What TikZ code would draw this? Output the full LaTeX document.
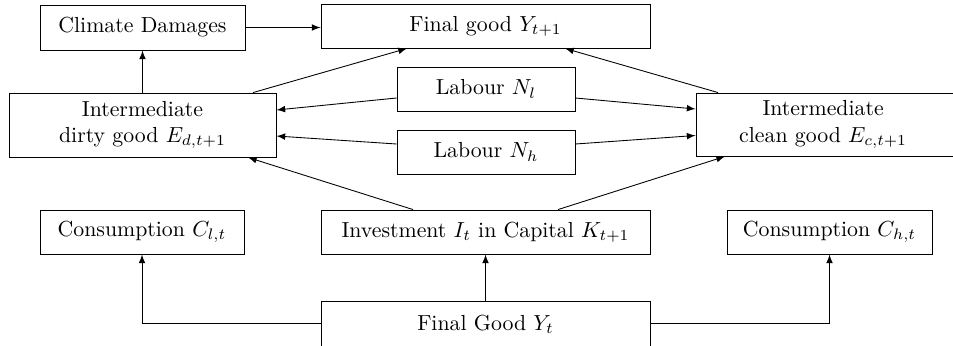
\documentclass[tikz,border=0pt]{standalone}
\usetikzlibrary{calc,arrows}
\begin{document}
\begin{tikzpicture}[x=0.4587pt,y=-0.4587pt,
  box/.style={draw,line width=0.4pt,align=center,inner sep=0pt,font=\normalsize},
  arr/.style={-latex,line width=0.4pt}]
\useasboundingbox (0,0) rectangle (953,345);
\node[box,minimum width=205*0.4587pt,minimum height=45*0.4587pt] (cd) at (142.5,27.5) {Climate Damages};
\node[box,minimum width=329*0.4587pt,minimum height=44*0.4587pt] (fg) at (485.5,26) {Final good $Y_{t+1}$};
\node[box,minimum width=178*0.4587pt,minimum height=44*0.4587pt] (nl) at (486,89) {Labour $N_l$};
\node[box,minimum width=178*0.4587pt,minimum height=44*0.4587pt] (nh) at (486,152) {Labour $N_h$};
\node[box,minimum width=267*0.4587pt,minimum height=64*0.4587pt] (dirty) at (142.5,125) {Intermediate\\ dirty good $E_{d,t+1}$};
\node[box,minimum width=276*0.4587pt,minimum height=63*0.4587pt] (clean) at (834,124.5) {\hspace*{-10pt}Intermediate\\ \hspace*{-10pt}clean good $E_{c,t+1}$};
\node[box,minimum width=204*0.4587pt,minimum height=44*0.4587pt] (cl) at (142,232) {Consumption $C_{l,t}$};
\node[box,minimum width=329*0.4587pt,minimum height=44*0.4587pt] (inv) at (485.5,232) {Investment $I_t$ in Capital $K_{t+1}$};
\node[box,minimum width=205*0.4587pt,minimum height=44*0.4587pt] (ch) at (829.5,232) {Consumption $C_{h,t}$};
\node[box,minimum width=329*0.4587pt,minimum height=46*0.4587pt] (yt) at (485.5,324) {Final Good $Y_t$};
\coordinate (ytw) at ($(yt.west)+(0,-1)$);
\coordinate (yte) at ($(yt.east)+(0,-1)$);
\draw[arr] (cd.east) -- (cd.east -| fg.west);
\draw[arr] (dirty) -- (cd);
\draw[arr] ($(dirty.north)+(110.5,0)$) -- ($(fg.south)+(-78.5,0)$);
\draw[arr] ($(clean.north)+(-116,0)$) -- ($(fg.south)+(79.5,0)$);
\draw[arr] ($(nl.west)+(0,9)$) -- ($(dirty.east)+(0,-15)$);
\draw[arr] ($(nl.east)+(0,9)$) -- ($(clean.west)+(0,-15.5)$);
\draw[arr] ($(nh.west)+(0,-8)$) -- ($(dirty.east)+(0,11)$);
\draw[arr] ($(nh.east)+(0,-8)$) -- ($(clean.west)+(0,11)$);
\draw[arr] ($(inv.north)+(-72.5,0)$) -- ($(dirty.south)+(105.5,0)$);
\draw[arr] ($(inv.north)+(72.5,0)$) -- ($(clean.south)+(-109,0)$);
\draw[arr] (yt.north) -- (inv.south);
\draw[arr] (ytw) -| (cl.south);
\draw[arr] (yte) -| (ch.south);
\end{tikzpicture}
\end{document}
